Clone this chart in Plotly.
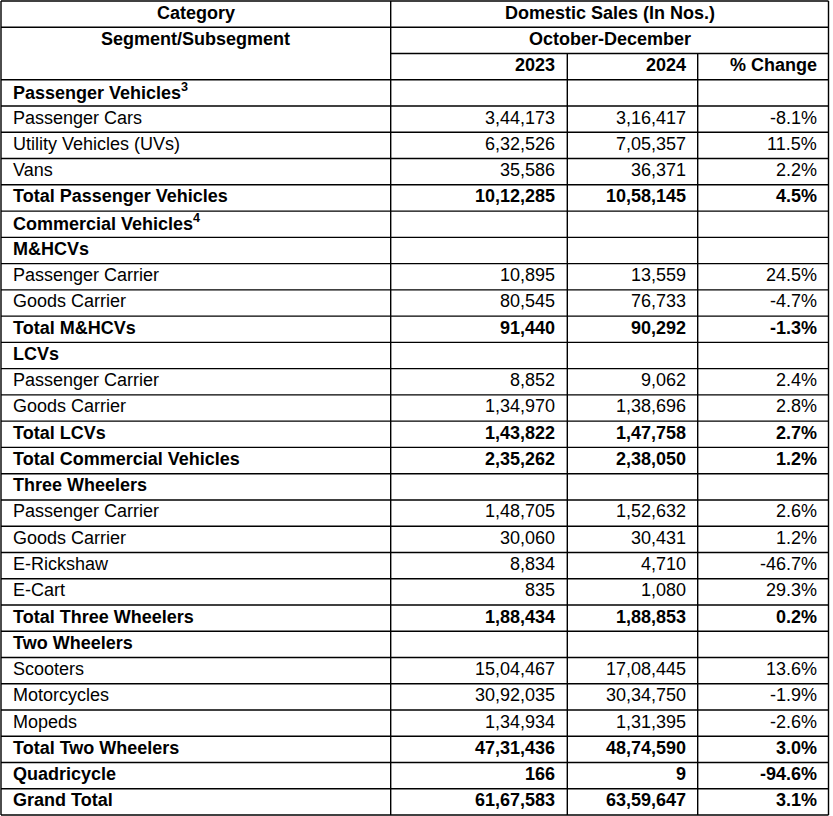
"""
Domestic sales by segment, October-December 2023 vs 2024 (table).
"""

import plotly.graph_objects as go

LABELS = [
    "Passenger Vehicles<sup>3</sup>",
    "Passenger Cars",
    "Utility Vehicles (UVs)",
    "Vans",
    "Total Passenger Vehicles",
    "Commercial Vehicles<sup>4</sup>",
    "M&HCVs",
    "Passenger Carrier",
    "Goods Carrier",
    "Total M&HCVs",
    "LCVs",
    "Passenger Carrier",
    "Goods Carrier",
    "Total LCVs",
    "Total Commercial Vehicles",
    "Three Wheelers",
    "Passenger Carrier",
    "Goods Carrier",
    "E-Rickshaw",
    "E-Cart",
    "Total Three Wheelers",
    "Two Wheelers",
    "Scooters",
    "Motorcycles",
    "Mopeds",
    "Total Two Wheelers",
    "Quadricycle",
    "Grand Total",
]

SALES_2023 = [
    None, "3,44,173", "6,32,526", "35,586", "10,12,285",
    None, None, "10,895", "80,545", "91,440",
    None, "8,852", "1,34,970", "1,43,822", "2,35,262",
    None, "1,48,705", "30,060", "8,834", "835", "1,88,434",
    None, "15,04,467", "30,92,035", "1,34,934", "47,31,436",
    "166", "61,67,583",
]

SALES_2024 = [
    None, "3,16,417", "7,05,357", "36,371", "10,58,145",
    None, None, "13,559", "76,733", "90,292",
    None, "9,062", "1,38,696", "1,47,758", "2,38,050",
    None, "1,52,632", "30,431", "4,710", "1,080", "1,88,853",
    None, "17,08,445", "30,34,750", "1,31,395", "48,74,590",
    "9", "63,59,647",
]

PCT_CHANGE = [
    None, "-8.1%", "11.5%", "2.2%", "4.5%",
    None, None, "24.5%", "-4.7%", "-1.3%",
    None, "2.4%", "2.8%", "2.7%", "1.2%",
    None, "2.6%", "1.2%", "-46.7%", "29.3%", "0.2%",
    None, "13.6%", "-1.9%", "-2.6%", "3.0%",
    "-94.6%", "3.1%",
]

# bold rows: section headings and totals
BOLD = [
    True, False, False, False, True,
    True, True, False, False, True,
    True, False, False, True, True,
    True, False, False, False, False, True,
    True, False, False, False, True,
    True, True,
]

HEADER_TOP = ["Category", "Domestic Sales (In Nos.)"]
HEADER_MID = ["Segment/Subsegment", "October-December"]
HEADER_YEARS = ["2023", "2024", "% Change"]

# layout
W, H = 833, 816
COL_EDGES = [1, 390.7, 567.3, 697.7, 828.5]
TOP_PX, ROW_PX = 1, 26.26
N_HEAD = 3
N_ROWS = N_HEAD + len(LABELS)
PAD = 10
TEXT_LIFT = 0.06  # text sits a little above the row middle
FONT = dict(family="Liberation Sans, Arial, sans-serif", size=18, color="#000000")
LINE = dict(color="#000000", width=1.4)


def bold(text, on=True):
    return f"<b>{text}</b>" if on else text


fig = go.Figure()
fig.add_trace(go.Scatter(x=[0], y=[0], mode="markers", marker=dict(opacity=0),
                         hoverinfo="skip", showlegend=False))


def hline(row, x0=COL_EDGES[0], x1=COL_EDGES[-1]):
    fig.add_shape(type="line", x0=x0, x1=x1, y0=row, y1=row, line=LINE)


def vline(x, r0=0, r1=N_ROWS):
    fig.add_shape(type="line", x0=x, x1=x, y0=r0, y1=r1, line=LINE)


def text(x, row, value, anchor):
    fig.add_annotation(x=x, y=row + 0.5 - TEXT_LIFT, text=value, showarrow=False,
                       xanchor=anchor, yanchor="middle", font=FONT)


# grid
for r in range(N_ROWS + 1):
    if r == 2:
        hline(r, x0=COL_EDGES[1])
    else:
        hline(r)
vline(COL_EDGES[0])
vline(COL_EDGES[1])
vline(COL_EDGES[-1])
vline(COL_EDGES[2], r0=2)
vline(COL_EDGES[3], r0=2)

# header
c1_mid = (COL_EDGES[0] + COL_EDGES[1]) / 2
c24_mid = (COL_EDGES[1] + COL_EDGES[-1]) / 2
text(c1_mid, 0, bold(HEADER_TOP[0]), "center")
text(c24_mid, 0, bold(HEADER_TOP[1]), "center")
text(c1_mid, 1, bold(HEADER_MID[0]), "center")
text(c24_mid, 1, bold(HEADER_MID[1]), "center")
for i, label in enumerate(HEADER_YEARS):
    text(COL_EDGES[i + 2] - PAD, 2, bold(label), "right")

# body
for i, label in enumerate(LABELS):
    row = N_HEAD + i
    text(COL_EDGES[0] + PAD, row, bold(label, BOLD[i]), "left")
    for c, series in enumerate([SALES_2023, SALES_2024, PCT_CHANGE]):
        if series[i] is not None:
            text(COL_EDGES[c + 2] - PAD, row, bold(series[i], BOLD[i]), "right")

y_top = -TOP_PX / ROW_PX
y_bot = (H - TOP_PX) / ROW_PX
fig.update_layout(
    width=W,
    height=H,
    margin=dict(l=0, r=0, t=0, b=0),
    paper_bgcolor="white",
    plot_bgcolor="white",
    xaxis=dict(range=[0, W], visible=False, fixedrange=True),
    yaxis=dict(range=[y_bot, y_top], visible=False, fixedrange=True),
    showlegend=False,
)

# the page's default body margin would push the table 8px off
fig.write_html("out.html", config={"displayModeBar": False},
               post_script="document.body.style.margin = '0';")
